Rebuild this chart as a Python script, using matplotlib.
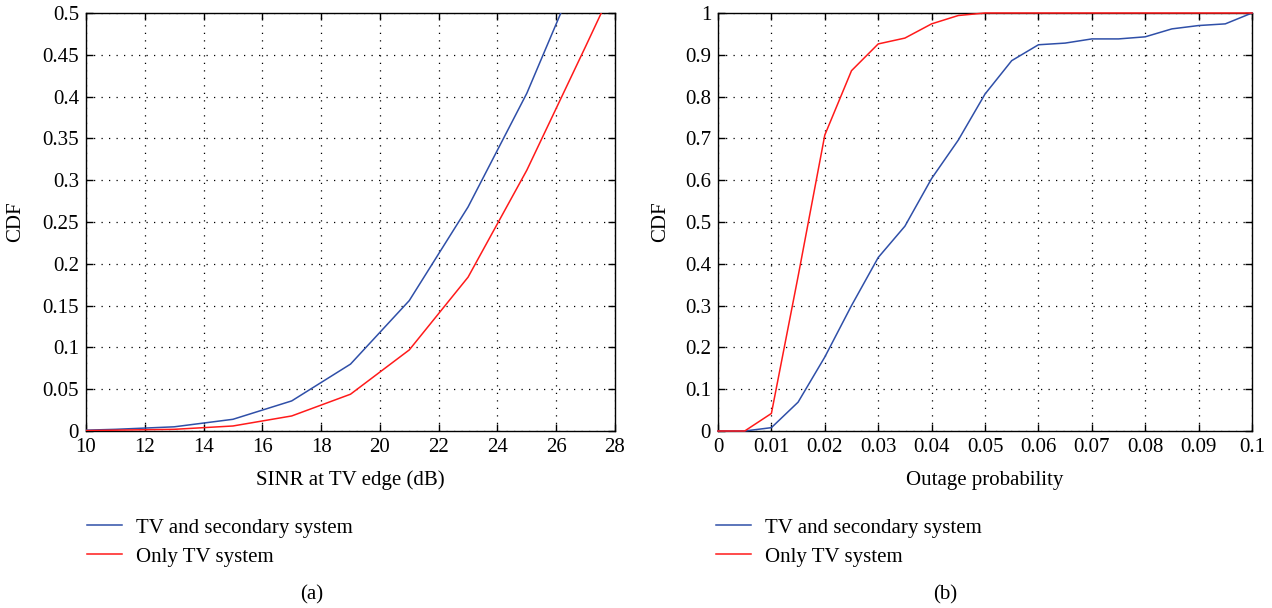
import numpy as np
import matplotlib.pyplot as plt

plt.rcParams['font.family'] = ['Liberation Serif', 'DejaVu Serif']

# panel (a): SINR at TV edge
sinr_db = [9, 11, 13, 15, 17, 19, 21, 23, 25, 27, 29]
cdf_a_both = [0.0, 0.002, 0.005, 0.014, 0.036, 0.080, 0.156, 0.268, 0.404, 0.57, 0.75]
cdf_a_tv = [0.0, 0.001, 0.002, 0.006, 0.018, 0.044, 0.097, 0.184, 0.312, 0.46, 0.61]

# panel (b): outage probability
outage = [0.0, 0.005, 0.01, 0.015, 0.02, 0.025, 0.03, 0.035, 0.04, 0.045, 0.05,
          0.055, 0.06, 0.065, 0.07, 0.075, 0.08, 0.085, 0.09, 0.095, 0.1]
cdf_b_both = [0.0, 0.0, 0.008, 0.069, 0.177, 0.30, 0.415, 0.49, 0.604, 0.696, 0.806,
              0.886, 0.924, 0.928, 0.938, 0.938, 0.943, 0.962, 0.970, 0.974, 1.0]
cdf_b_tv = [0.0, 0.0, 0.042, 0.37, 0.708, 0.862, 0.926, 0.940, 0.974, 0.994, 1.0,
            1.0, 1.0, 1.0, 1.0, 1.0, 1.0, 1.0, 1.0, 1.0, 1.0]

labels = ['TV and secondary system', 'Only TV system']
blue = '#2f4fa8'
red = '#ff1a1a'

xticks_a = [10, 12, 14, 16, 18, 20, 22, 24, 26, 28]
yticks_a = [0, 0.05, 0.1, 0.15, 0.2, 0.25, 0.3, 0.35, 0.4, 0.45, 0.5]
yticklabels_a = ['0', '0.05', '0.1', '0.15', '0.2', '0.25', '0.3', '0.35', '0.4', '0.45', '0.5']
xticks_b = [0, 0.01, 0.02, 0.03, 0.04, 0.05, 0.06, 0.07, 0.08, 0.09, 0.1]
xticklabels_b = ['0', '0.01', '0.02', '0.03', '0.04', '0.05', '0.06', '0.07', '0.08', '0.09', '0.1']
yticks_b = [0, 0.1, 0.2, 0.3, 0.4, 0.5, 0.6, 0.7, 0.8, 0.9, 1]
yticklabels_b = ['0', '0.1', '0.2', '0.3', '0.4', '0.5', '0.6', '0.7', '0.8', '0.9', '1']

fs = 15

fig = plt.figure(figsize=(12.72, 6.08), dpi=100)
ax1 = fig.add_axes([86/1272, 1-431/608, 529/1272, 418/608])
ax2 = fig.add_axes([718/1272, 1-431/608, 534/1272, 418/608])


def style(ax):
    ax.grid(True, color='black', linestyle=(0, (1, 5)), linewidth=0.9)
    ax.tick_params(direction='in', top=True, right=True, length=5, width=1,
                   labelsize=fs, pad=5)
    for s in ax.spines.values():
        s.set_linewidth(1.0)


# (a)
ax1.plot(sinr_db, cdf_a_both, color=blue, lw=1.1, label=labels[0], zorder=3)
ax1.plot(sinr_db, cdf_a_tv, color=red, lw=1.1, label=labels[1], zorder=3)
ax1.set_xlim(10, 28)
ax1.set_ylim(0, 0.5)
ax1.set_xticks(xticks_a)
ax1.set_yticks(yticks_a)
ax1.set_yticklabels(yticklabels_a)
style(ax1)
ax1.set_xlabel('SINR at TV edge (dB)', fontsize=fs)
ax1.set_ylabel('CDF', fontsize=fs)
ax1.xaxis.set_label_coords(0.5, -0.095)
ax1.yaxis.set_label_coords(-0.115, 0.5)

# (b) - all points lie inside the limits, so no clipping needed
ax2.plot(outage, cdf_b_both, color=blue, lw=1.1, label=labels[0], zorder=3, clip_on=False)
ax2.plot(outage, cdf_b_tv, color=red, lw=1.1, label=labels[1], zorder=3, clip_on=False)
ax2.set_xlim(0, 0.1)
ax2.set_ylim(0, 1)
ax2.set_xticks(xticks_b)
ax2.set_xticklabels(xticklabels_b)
ax2.set_yticks(yticks_b)
ax2.set_yticklabels(yticklabels_b)
style(ax2)
ax2.set_xlabel('Outage probability', fontsize=fs)
ax2.set_ylabel('CDF', fontsize=fs)
ax2.xaxis.set_label_coords(0.5, -0.095)
ax2.yaxis.set_label_coords(-0.09, 0.5)

# legends below each panel
for ax, x0 in [(ax1, 87/1272), (ax2, 716/1272)]:
    ax.legend(loc='upper left', bbox_to_anchor=(x0, 1-518/608),
              bbox_transform=fig.transFigure, frameon=False, fontsize=fs,
              handlelength=1.7, handletextpad=0.65, labelspacing=0.45,
              borderpad=0, borderaxespad=0)

fig.text(312/1272, 1-595/608, '(a)', ha='center', va='center', fontsize=fs)
fig.text(945/1272, 1-595/608, '(b)', ha='center', va='center', fontsize=fs)

fig.savefig('out.png', dpi=100)
